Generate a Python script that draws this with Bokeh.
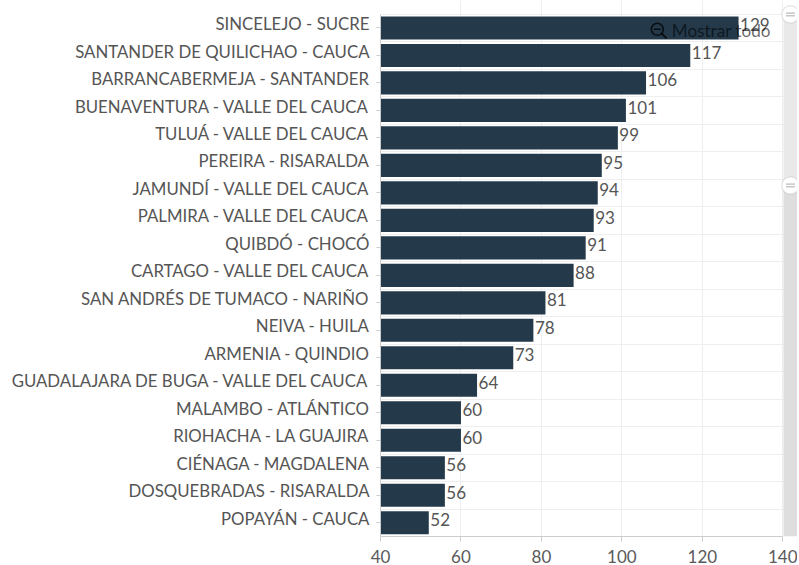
from bokeh.plotting import figure
from bokeh.embed import file_html
from bokeh.resources import INLINE
from bokeh.core.properties import value
from bokeh.models import Range1d, FixedTicker, BoxAnnotation, Label, ColumnDataSource

cities = ["SINCELEJO - SUCRE", "SANTANDER DE QUILICHAO - CAUCA", "BARRANCABERMEJA - SANTANDER",
          "BUENAVENTURA - VALLE DEL CAUCA", "TULUÁ - VALLE DEL CAUCA", "PEREIRA - RISARALDA",
          "JAMUNDÍ - VALLE DEL CAUCA", "PALMIRA - VALLE DEL CAUCA", "QUIBDÓ - CHOCÓ",
          "CARTAGO - VALLE DEL CAUCA", "SAN ANDRÉS DE TUMACO - NARIÑO", "NEIVA - HUILA",
          "ARMENIA - QUINDIO", "GUADALAJARA DE BUGA - VALLE DEL CAUCA", "MALAMBO - ATLÁNTICO",
          "RIOHACHA - LA GUAJIRA", "CIÉNAGA - MAGDALENA", "DOSQUEBRADAS - RISARALDA", "POPAYÁN - CAUCA"]
counts = [129, 117, 106, 101, 99, 95, 94, 93, 91, 88, 81, 78, 73, 64, 60, 60, 56, 56, 52]
x_ticks = [40, 60, 80, 100, 120, 140]

FONT = "Lato"
idx = list(range(len(cities)))
src = ColumnDataSource(dict(y=idx, left=[40] * len(idx), right=counts, label=[str(c) for c in counts]))

p = figure(width=797, height=565, output_backend="svg", toolbar_location=None,
           x_range=Range1d(40, 143.65), y_range=Range1d(18.5, -0.998),
           min_border_left=380, min_border_right=0, min_border_top=0, min_border_bottom=29,
           outline_line_color=None, background_fill_color="white")

# slider track
p.add_layout(BoxAnnotation(left=140.17, right=143.65, top=-0.5, bottom=5.73, fill_color="#e9e9e9", fill_alpha=1,
                           line_color=None, level="underlay"))
p.add_layout(BoxAnnotation(left=140.17, right=143.65, top=5.73, bottom=18.5, fill_color="#dedede", fill_alpha=1,
                           line_color=None, level="underlay"))

p.hbar(y="y", left="left", right="right", height=0.84, source=src, fill_color="#243a4b", line_color=None)
p.text(x="right", y="y", text="label", source=src, x_offset=1.5, y_offset=-3, text_baseline="middle", text_align="left",
       text_font=value(FONT), text_font_size="17px", text_color="#555555")

# axes
xa = p.xaxis[0]
xa.ticker = FixedTicker(ticks=x_ticks)
xa.bounds = (40, 140)
xa.axis_line_color = "#cccccc"
xa.major_tick_line_color = "#cccccc"
xa.major_tick_out = 5
xa.major_tick_in = 0
xa.minor_tick_line_color = None
xa.major_label_standoff = 8
xa.major_label_text_font = FONT
xa.major_label_text_font_size = "17px"
xa.major_label_text_color = "#5a5a5a"

# category names sit slightly above their rows, tick marks on the row centres
label_pos = [i - 0.16 for i in idx]
ya = p.yaxis[0]
ya.ticker = FixedTicker(ticks=label_pos, minor_ticks=idx)
ya.major_label_overrides = {pos: c for pos, c in zip(label_pos, cities)}
ya.bounds = (-0.5, 18.5)
ya.axis_line_color = "#cccccc"
ya.major_tick_line_color = None
ya.major_tick_out = 4
ya.major_tick_in = 0
ya.minor_tick_line_color = "#cccccc"
ya.minor_tick_out = 4
ya.minor_tick_in = 0
ya.major_label_standoff = 7
ya.major_label_text_font = FONT
ya.major_label_text_font_size = "16.8px"
ya.major_label_text_color = "#555555"

xg = p.xgrid[0]
xg.ticker = FixedTicker(ticks=x_ticks[1:])
xg.grid_line_color = "#eeeeee"
xg.bounds = (-0.5, 18.5)
yg = p.ygrid[0]
yg.ticker = FixedTicker(ticks=[i - 0.5 for i in idx])
yg.grid_line_color = "#eeeeee"
yg.bounds = (40, 140)

# zoom reset control
p.scatter(x=[108.8], y=[0.05], marker="circle", size=12, fill_color=None, line_color="#000000", line_alpha=0.75, line_width=1.6)
p.scatter(x=[108.8], y=[0.05], marker="dash", size=7, line_color="#000000", line_alpha=0.75, line_width=1.6)
p.segment(x0=[109.9], y0=[0.2], x1=[111.1], y1=[0.38], line_color="#000000", line_alpha=0.75, line_width=2)
p.add_layout(Label(x=112.4, y=0.09, text="Mostrar todo", text_font=FONT, text_font_size="17.1px",
                   text_color="#000000", text_alpha=0.6, text_baseline="middle", text_align="left"))

# slider handles
for yy in (-0.49, 5.73):
    p.scatter(x=[141.9], y=[yy], marker="circle", size=19, fill_color="#000000", fill_alpha=0.08, line_color=None)
    p.scatter(x=[141.9], y=[yy], marker="circle", size=17, fill_color="white", line_color="#e4e4e4")
    p.scatter(x=[141.9], y=[yy - 0.05], marker="dash", size=9, line_color="#aaaaaa", line_width=1)
    p.scatter(x=[141.9], y=[yy + 0.05], marker="dash", size=9, line_color="#aaaaaa", line_width=1)

open("out.html", "w").write(file_html(p, INLINE))
